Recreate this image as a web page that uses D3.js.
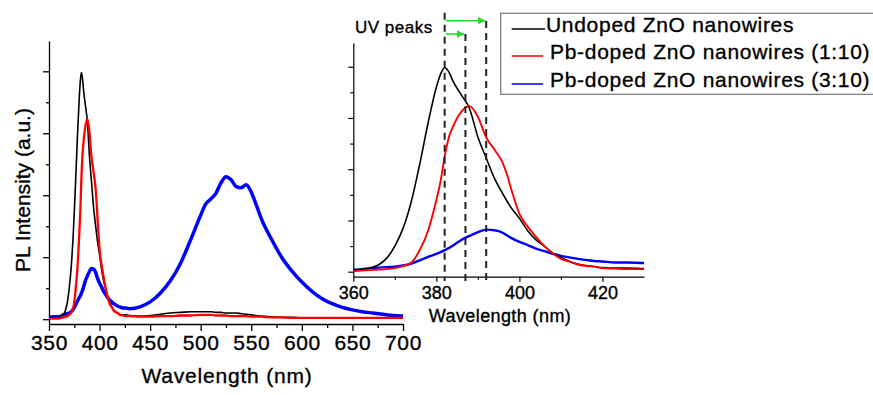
<!DOCTYPE html>
<html lang="en">
<head>
<meta charset="UTF-8">
<title>PL spectra of ZnO nanowires</title>
<script src="https://d3js.org/d3.v7.min.js"></script>
<style>
    body { margin: 0; background: #fff; }
    svg { font-family: "Liberation Sans", Arial, sans-serif; }
    svg text { stroke: #000; stroke-width: 0.35px; }
</style>
</head>
<body>
<svg id="chart" width="873" height="395"></svg>
<script>
// wavelength grid (nm), shared by the three spectra
const wavelength = [350, 355, 360, 362, 364, 366, 368, 370, 372, 374, 376, 378, 380, 381, 382, 383, 384, 386, 388, 390,
    392, 394, 396, 397, 398, 400, 402, 404, 406, 408, 410, 412, 414, 416, 418, 420, 423, 426, 430, 440,
    450, 460, 470, 480, 490, 500, 505, 510, 515, 520, 525, 530, 535, 540, 545, 550, 555, 560, 570, 580,
    590, 600, 610, 620, 630, 640, 650, 660, 670, 680, 690, 700];

const undoped = [0.02, 0.02, 0.03, 0.05, 0.07, 0.13, 0.26, 0.50, 0.85, 1.38, 2.10, 2.90, 3.60, 3.85, 3.98, 3.90, 3.72, 3.45, 3.18, 2.63,
    2.22, 1.82, 1.52, 1.38, 1.25, 1.04, 0.80, 0.62, 0.50, 0.36, 0.28, 0.20, 0.15, 0.12, 0.10, 0.08, 0.07, 0.07, 0.06, 0.05,
    0.06, 0.08, 0.10, 0.11, 0.12, 0.12, 0.12, 0.12, 0.11, 0.11, 0.10, 0.10, 0.10, 0.09, 0.08, 0.07, 0.06, 0.05, 0.04, 0.03,
    0.03, 0.02, 0.02, 0.02, 0.02, 0.02, 0.02, 0.02, 0.02, 0.02, 0.02, 0.02];

const pb110 = [0.01, 0.01, 0.01, 0.02, 0.03, 0.04, 0.05, 0.07, 0.11, 0.18, 0.42, 0.80, 1.40, 1.76, 2.25, 2.62, 2.83, 3.12, 3.23, 3.02,
    2.62, 2.38, 2.12, 1.90, 1.62, 1.13, 0.88, 0.68, 0.50, 0.36, 0.25, 0.20, 0.14, 0.11, 0.10, 0.07, 0.06, 0.05, 0.05, 0.04,
    0.04, 0.05, 0.05, 0.06, 0.06, 0.07, 0.07, 0.07, 0.06, 0.06, 0.06, 0.05, 0.05, 0.05, 0.05, 0.04, 0.04, 0.04, 0.03, 0.03,
    0.02, 0.02, 0.02, 0.02, 0.02, 0.02, 0.02, 0.02, 0.02, 0.02, 0.02, 0.02];

const pb310 = [0.03, 0.04, 0.04, 0.05, 0.07, 0.08, 0.09, 0.10, 0.12, 0.16, 0.22, 0.29, 0.35, 0.38, 0.42, 0.46, 0.51, 0.62, 0.70, 0.77,
    0.82, 0.81, 0.76, 0.71, 0.66, 0.58, 0.52, 0.45, 0.40, 0.35, 0.31, 0.28, 0.25, 0.23, 0.21, 0.20, 0.18, 0.18, 0.17, 0.20,
    0.28, 0.42, 0.62, 0.90, 1.28, 1.68, 1.86, 1.94, 2.03, 2.20, 2.30, 2.25, 2.14, 2.12, 2.17, 2.05, 1.84, 1.62, 1.29, 1.00,
    0.78, 0.60, 0.45, 0.33, 0.25, 0.19, 0.15, 0.12, 0.10, 0.08, 0.06, 0.05];

const seriesNames = ["Undoped ZnO nanowires", "Pb-doped ZnO nanowires (1:10)", "Pb-doped ZnO nanowires (3:10)"];
const seriesColors = ["#000000", "#ff0000", "#0000ff"];
const mainWidths = [1.6, 2.3, 3.5];
const insetWidths = [1.6, 1.9, 2.4];

const mainTicks = [350, 400, 450, 500, 550, 600, 650, 700];
const insetTicks = [360, 380, 400, 420];
const uvPeaks = [382, 387, 392];

const allSeries = [undoped, pb110, pb310];
const svg = d3.select("#chart");
svg.append("rect").attr("width", 873).attr("height", 395).attr("fill", "#fff");

// ---------- main plot ----------
const x = d3.scaleLinear().domain([350, 700]).range([49, 403]);
const y = d3.scaleLinear().domain([-0.0774, 4.489]).range([324, 41]);

const main = svg.append("g");

main.append("g")
    .attr("transform", "translate(0,324)")
    .call(d3.axisBottom(x).tickValues(d3.range(375, 700, 50)).tickSize(4).tickFormat(""))
    .call(g => g.select(".domain").remove());
main.append("g")
    .attr("transform", "translate(0,324)")
    .call(d3.axisBottom(x).tickValues(mainTicks).tickSize(7).tickSizeOuter(0).tickPadding(4))
    .call(g => g.selectAll("text").attr("font-size", 21).attr("letter-spacing", 0.6).attr("font-family", null));

main.append("g")
    .attr("transform", "translate(49,0)")
    .call(d3.axisLeft(y).tickValues([0.5, 1.5, 2.5, 3.5]).tickSize(3).tickFormat(""))
    .call(g => g.select(".domain").remove());
main.append("g")
    .attr("transform", "translate(49,0)")
    .call(d3.axisLeft(y).tickValues([0, 1, 2, 3, 4]).tickSize(6).tickSizeOuter(0).tickFormat(""));

main.selectAll(".domain, .tick line").attr("stroke", "#000").attr("stroke-width", 1.3);

main.append("text")
    .attr("x", 227).attr("y", 383)
    .attr("text-anchor", "middle")
    .attr("font-size", 21).attr("letter-spacing", 0.8)
    .text("Wavelength (nm)");
main.append("text")
    .attr("transform", "translate(30,190) rotate(-90)")
    .attr("text-anchor", "middle")
    .attr("font-size", 21)
    .text("PL Intensity (a.u.)");

const lineMain = d3.line()
    .x(d => x(d[0])).y(d => y(d[1]))
    .curve(d3.curveMonotoneX);

[2, 0, 1].forEach(i => {
    main.append("path")
        .datum(wavelength.map((w, k) => [w, allSeries[i][k]]))
        .attr("fill", "none")
        .attr("stroke", seriesColors[i])
        .attr("stroke-width", mainWidths[i])
        .attr("stroke-linejoin", "round")
        .attr("d", lineMain);
});

// ---------- inset ----------
const xi = d3.scaleLinear().domain([360, 430]).range([353.3, 644]);
const yi = d3.scaleLinear().domain([-0.0976, 4.4625]).range([276.7, 43]);

const inset = svg.append("g");

svg.append("clipPath").attr("id", "insetClip")
    .append("rect").attr("x", 353.3).attr("y", 40).attr("width", 644 - 353.3).attr("height", 240);

inset.append("g")
    .attr("transform", "translate(0,276.7)")
    .call(d3.axisBottom(xi).tickValues([370, 390, 410]).tickSize(3).tickFormat(""))
    .call(g => g.select(".domain").remove());
inset.append("g")
    .attr("transform", "translate(0,276.7)")
    .call(d3.axisBottom(xi).tickValues(insetTicks).tickSize(5).tickSizeOuter(0).tickPadding(5))
    .call(g => g.selectAll("text").attr("font-size", 18).attr("font-family", null));

inset.append("g")
    .attr("transform", "translate(353.3,0)")
    .call(d3.axisLeft(yi).tickValues([0.5, 1.5, 2.5, 3.5]).tickSize(3).tickFormat(""))
    .call(g => g.select(".domain").remove());
inset.append("g")
    .attr("transform", "translate(353.3,0)")
    .call(d3.axisLeft(yi).tickValues([0, 1, 2, 3, 4]).tickSize(5).tickSizeOuter(0).tickFormat(""));

inset.selectAll(".domain, .tick line").attr("stroke", "#000").attr("stroke-width", 1.2);

inset.append("text")
    .attr("x", 500).attr("y", 322)
    .attr("text-anchor", "middle")
    .attr("font-size", 18).attr("letter-spacing", 0.4)
    .text("Wavelength (nm)");

const lineInset = d3.line()
    .x(d => xi(d[0])).y(d => yi(d[1]))
    .curve(d3.curveMonotoneX);

const curves = inset.append("g").attr("clip-path", "url(#insetClip)");
[2, 0, 1].forEach(i => {
    curves.append("path")
        .datum(wavelength.map((w, k) => [w, allSeries[i][k]]).filter(d => d[0] >= 355 && d[0] <= 440))
        .attr("fill", "none")
        .attr("stroke", seriesColors[i])
        .attr("stroke-width", insetWidths[i])
        .attr("stroke-linejoin", "round")
        .attr("d", lineInset);
});

// dashed peak markers and arrows
const dashTops = [12.7, 34, 21];
uvPeaks.forEach((p, i) => {
    inset.append("line")
        .attr("x1", xi(p)).attr("x2", xi(p))
        .attr("y1", dashTops[i]).attr("y2", 281)
        .attr("stroke", "#222").attr("stroke-width", 2)
        .attr("stroke-dasharray", "7,5");
});

svg.append("defs").append("marker")
    .attr("id", "arrowHead")
    .attr("viewBox", "0 0 10 10")
    .attr("refX", 10).attr("refY", 5)
    .attr("markerWidth", 5).attr("markerHeight", 5)
    .attr("orient", "auto")
    .append("path").attr("d", "M0,0L10,5L0,10Z").attr("fill", "#22dd22");

[[uvPeaks[2], 20.7], [uvPeaks[1], 34]].forEach(([p, yy]) => {
    inset.append("line")
        .attr("x1", xi(uvPeaks[0]) + 1).attr("x2", xi(p) - 1)
        .attr("y1", yy).attr("y2", yy)
        .attr("stroke", "#22dd22").attr("stroke-width", 1.5)
        .attr("marker-end", "url(#arrowHead)");
});

inset.append("text")
    .attr("x", 355).attr("y", 33)
    .attr("font-size", 17).attr("letter-spacing", 0.5)
    .text("UV peaks");

// legend
const legend = svg.append("g");
legend.append("rect")
    .attr("x", 500.7).attr("y", 13.3)
    .attr("width", 400).attr("height", 81)
    .attr("fill", "#fff").attr("stroke", "#777").attr("stroke-width", 1.2);

const rowY = [29, 56, 84];
const lineEnd = [545, 543, 543];
const textStart = [546, 550, 550];
seriesNames.forEach((name, i) => {
    legend.append("line")
        .attr("x1", 511.7).attr("x2", lineEnd[i])
        .attr("y1", rowY[i]).attr("y2", rowY[i])
        .attr("stroke", seriesColors[i]).attr("stroke-width", 1.5);
    legend.append("text")
        .attr("x", textStart[i]).attr("y", rowY[i] + 3)
        .attr("font-size", 21).attr("letter-spacing", 0.7)
        .text(name);
});
</script>
</body>
</html>
